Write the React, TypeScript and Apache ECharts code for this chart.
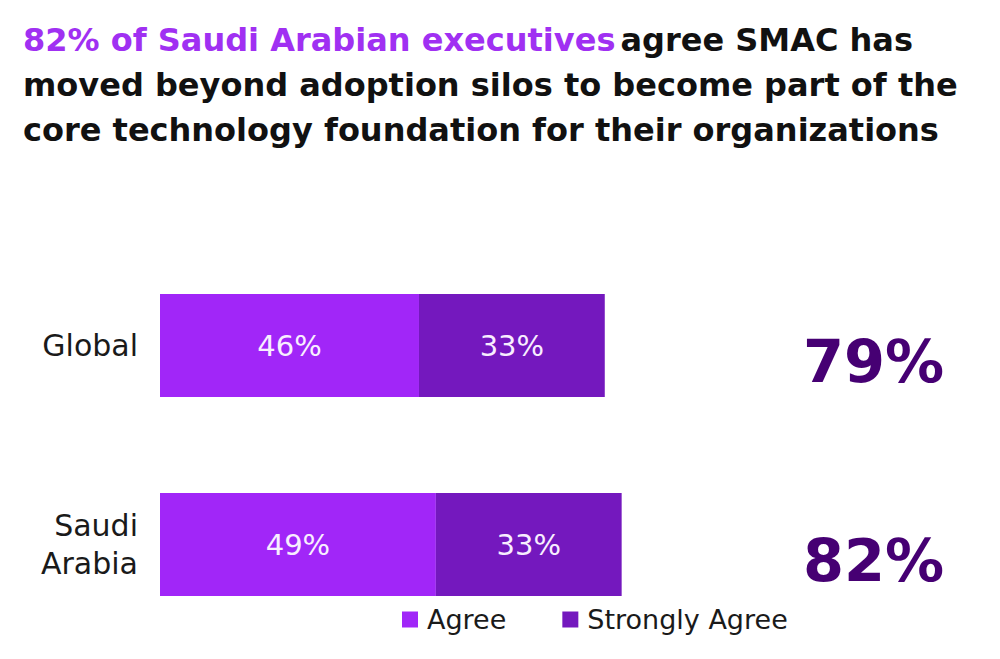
import React, { useEffect, useRef } from "react";
import * as echarts from "echarts";

const categories = ["Global", "Saudi\nArabia"];
const agree = [46, 49];
const stronglyAgree = [33, 33];
const totals = agree.map((v, i) => v + stronglyAgree[i]);

const LIGHT = "#A126F8";
const DARK = "#7418BE";
const TOTAL = "#460073";
const REG = "DejaVu Sans";

export default function App() {
  const ref = useRef<HTMLDivElement>(null);
  useEffect(() => {
    document.body.style.margin = "0";
    const chart = echarts.init(ref.current!, null, { renderer: "svg" });
    const labelStyle = {
      show: true,
      position: "inside",
      color: "#F8EEFF",
      fontSize: 29,
      fontFamily: REG,
      formatter: (p: any) => p.value + "%",
    };
    chart.setOption({
      animation: false,
      backgroundColor: "#ffffff",
      title: {
        left: 18,
        top: 12,
        text:
          "{p|82% of Saudi Arabian executives} {b|agree SMAC has}\n{b|moved beyond adoption silos to become part of the}\n{b|core technology foundation for their organizations}",
        textStyle: {
          rich: {
            p: { color: "#A030F2", fontSize: 32, fontWeight: "bold", fontFamily: REG, lineHeight: 45 },
            b: { color: "#111111", fontSize: 32, fontWeight: "bold", fontFamily: REG, lineHeight: 45 },
          },
        },
      },
      legend: {
        left: 397,
        top: 601,
        itemWidth: 16,
        itemHeight: 16,
        itemGap: 56,
        icon: "rect",
        textStyle: { fontSize: 27, color: "#1a1a1a", fontFamily: REG, padding: [0, 0, 0, 4] },
        data: ["Agree", "Strongly Agree"],
      },
      grid: { left: 160, width: 563, top: 246, height: 398 },
      xAxis: { type: "value", min: 0, max: 100, show: false },
      yAxis: [
        {
          type: "category",
          data: categories,
          inverse: true,
          axisLine: { show: false },
          axisTick: { show: false },
          axisLabel: {
            margin: 22,
            fontSize: 30,
            color: "#1a1a1a",
            fontFamily: REG,
            lineHeight: 38,
          },
        },
        {
          type: "category",
          data: categories,
          inverse: true,
          position: "right",
          axisLine: { show: false },
          axisTick: { show: false },
          axisLabel: {
            margin: 80,
            align: "left",
            formatter: (_v: string, i: number) => "{t|" + totals[i] + "%}",
            rich: {
              t: {
                fontSize: 59,
                fontWeight: "bold",
                color: TOTAL,
                fontFamily: REG,
                padding: [32, 0, 0, 0],
              },
            },
          },
        },
      ],
      series: [
        {
          name: "Agree",
          type: "bar",
          stack: "s",
          barWidth: 103,
          data: agree,
          itemStyle: { color: LIGHT },
          label: labelStyle,
        },
        {
          name: "Strongly Agree",
          type: "bar",
          stack: "s",
          barWidth: 103,
          data: stronglyAgree,
          itemStyle: { color: DARK },
          label: labelStyle,
        },
      ],
    });
    return () => chart.dispose();
  }, []);
  return <div ref={ref} style={{ width: 1000, height: 659 }} />;
}
